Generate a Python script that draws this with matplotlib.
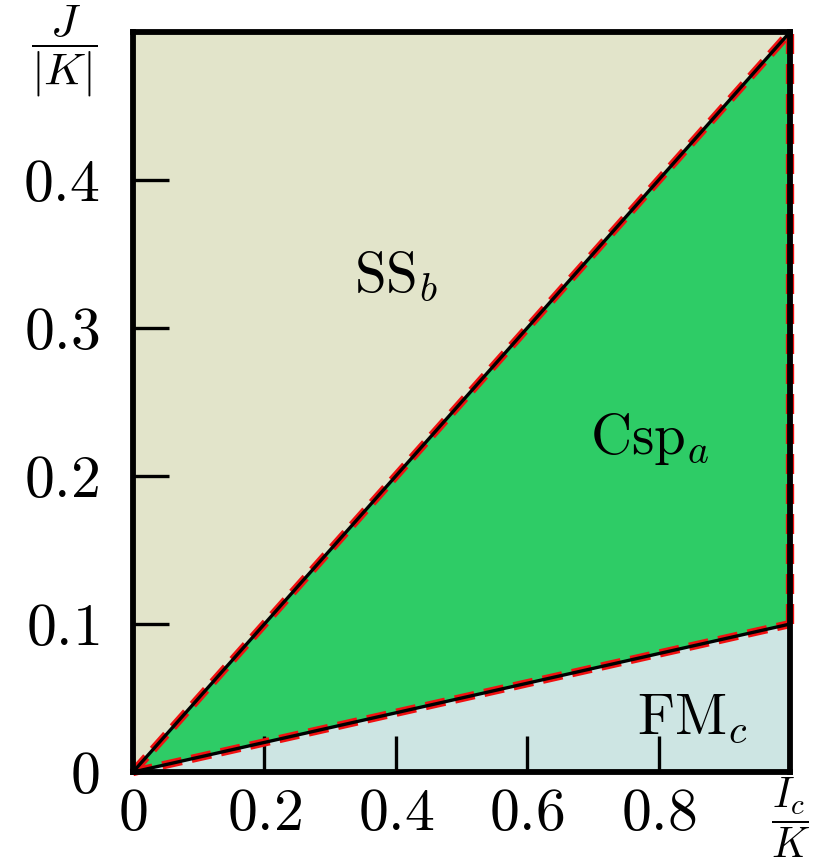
import numpy as np
import matplotlib.pyplot as plt

plt.rcParams['mathtext.fontset'] = 'cm'
plt.rcParams['font.family'] = 'serif'
plt.rcParams['font.serif'] = ['cmr10', 'DejaVu Serif']
plt.rcParams['axes.formatter.use_mathtext'] = True

# phase boundaries J/|K| = slope * Ic/K
ic = np.array([0.0, 1.0])
upper_slope = 0.5
lower_slope = 0.1
xmax, ymax = 1.0, 0.5

xticks = [0, 0.2, 0.4, 0.6, 0.8]
xticklabels = ['$0$', '$0.2$', '$0.4$', '$0.6$', '$0.8$']
yticks = [0, 0.1, 0.2, 0.3, 0.4]
yticklabels = ['$0$', '$0.1$', '$0.2$', '$0.3$', '$0.4$']

phase_names = [r'$\mathrm{SS}_b$', r'$\mathrm{Csp}_a$', r'$\mathrm{FM}_c$']
phase_pos = [(0.40, 0.335), (0.787, 0.225), (0.851, 0.036)]
phase_colors = ['#e2e4ca', '#2ecc66', '#cde5e3']

fig = plt.figure(figsize=(8.18, 8.58), dpi=100)
ax = fig.add_axes([0.1626, 0.1002, 0.8032, 0.8625])

up = upper_slope * ic
lo = lower_slope * ic
ax.fill_between(ic, up, ymax, color=phase_colors[0], lw=0)
ax.fill_between(ic, lo, up, color=phase_colors[1], lw=0)
ax.fill_between(ic, 0, lo, color=phase_colors[2], lw=0)

bx = [ic, ic, [xmax, xmax]]
by = [up, lo, [lower_slope * xmax, upper_slope * xmax]]
for x, y in zip(bx, by):
    ax.plot(x, y, color='#f01010', lw=6.0, dashes=(2.4, 1.2),
            solid_capstyle='butt', zorder=3, clip_on=False)
    ax.plot(x, y, color='black', lw=2.4, zorder=4, clip_on=False)

for name, (px, py) in zip(phase_names, phase_pos):
    ax.text(px, py, name, fontsize=41, ha='center', va='center', zorder=5)

ax.set_xlim(0, xmax)
ax.set_ylim(0, ymax)
ax.set_xticks(xticks)
ax.set_xticklabels(xticklabels)
ax.set_yticks(yticks)
ax.set_yticklabels(yticklabels)
ax.tick_params(direction='in', length=26, width=2.4, labelsize=43)
ax.tick_params(axis='x', pad=12)
ax.tick_params(axis='y', pad=24)
for s in ax.spines.values():
    s.set_linewidth(4.2)
    s.set_zorder(6)

fig.text(0.079, 0.940, r'$\dfrac{J}{|K|}$', fontsize=33, ha='center', va='center')
fig.text(0.966, 0.047, r'$\dfrac{I_c}{K}$', fontsize=30, ha='center', va='center')

fig.savefig('out.png', dpi=100)
